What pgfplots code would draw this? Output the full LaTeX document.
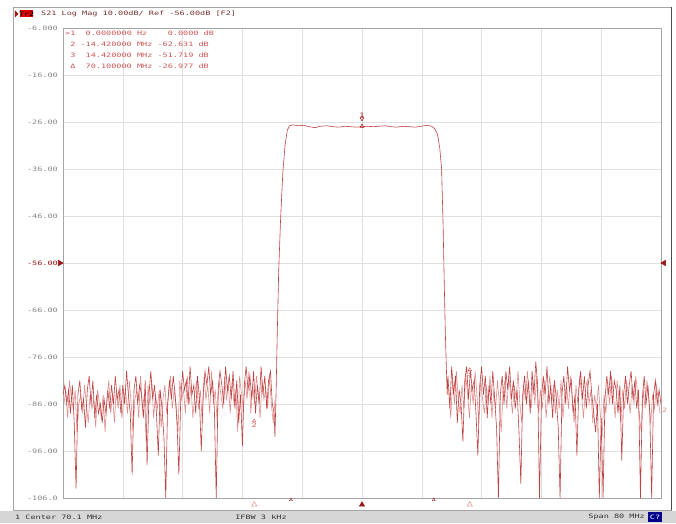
\documentclass[border=0pt]{standalone}
\usepackage{pgfplots}
\pgfplotsset{compat=1.18}
\usepackage{fontspec}
\usepackage{graphicx}
\setmonofont{DejaVu Sans Mono}
\definecolor{trace}{RGB}{190,66,66}
\definecolor{gridc}{RGB}{224,224,224}
\definecolor{framec}{RGB}{165,165,165}
\definecolor{tickc}{RGB}{135,135,135}
\definecolor{mkred}{RGB}{205,85,85}
\definecolor{darkred}{RGB}{160,20,20}
\definecolor{titlec}{RGB}{115,45,45}
\definecolor{barc}{RGB}{214,214,214}
\definecolor{pinkc}{RGB}{225,140,140}
\newcommand\scr[1]{\scalebox{1.42}[1]{\fontsize{6}{6}\selectfont\ttfamily #1}}
\begin{document}
\begin{tikzpicture}
\path[use as bounding box] (-63pt,-25pt) rectangle (613pt,498pt);
% window frame and status bar
\draw[framec, line width=0.8pt] (-50pt,-12pt) rectangle (608pt,491pt);
\draw[gray!60!black, line width=0.8pt] (608pt,-12pt) -- (608pt,491pt);
\fill[barc] (-63pt,-25pt) rectangle (613pt,-13pt);
\begin{axis}[
  at={(0pt,0pt)}, anchor=south west,
  scale only axis, width=598pt, height=470pt,
  xmin=30.1, xmax=110.1, ymin=-106, ymax=-6,
  xtick={30.1,38.1,46.1,54.1,62.1,70.1,78.1,86.1,94.1,102.1,110.1},
  xticklabels={},
  ytick={-106,-96,-86,-76,-66,-56,-46,-36,-26,-16,-6},
  yticklabels={\scr{-106.0},\scr{-96.00},\scr{-86.00},\scr{-76.00},\scr{-66.00},
    \textcolor{darkred}{\scr{-56.00}},\scr{-46.00},\scr{-36.00},\scr{-26.00},\scr{-16.00},\scr{-6.000}},
  yticklabel style={anchor=east, xshift=-5pt, text=tickc, inner sep=0pt},
  major tick length=0pt,
  grid=major, major grid style={draw=gridc, line width=0.5pt},
  axis line style={draw=framec, line width=0.7pt},
  clip=false,
]
% in-between samples of the noise floor (lighter)
\addplot[pinkc, line width=0.6pt, mark=none] coordinates {
(30.225,-86)(30.475,-83)(30.725,-89)(30.975,-81)(31.225,-85)(31.475,-87)(31.725,-83)(31.975,-92)(32.225,-86)(32.475,-84)
(32.725,-88)(32.975,-82)(33.225,-86)(33.475,-90)(33.725,-84)(33.975,-87)(34.225,-85)(34.475,-91)(34.725,-83)(34.975,-86)
(35.225,-89)(35.475,-84)(35.725,-92)(35.975,-85)(36.225,-81)(36.475,-88)(36.725,-84)(36.975,-90)(37.225,-83)(37.475,-87)
(37.725,-82)(37.975,-89)(38.225,-85)(38.475,-83)(38.725,-88)(38.975,-81)(39.225,-86)(39.475,-92)(39.725,-85)(39.975,-83)
(40.225,-89)(40.475,-80)(40.725,-87)(40.975,-84)(41.225,-94)(41.475,-82)(41.725,-86)(41.975,-81)(42.225,-89)(42.475,-84)
(42.725,-87)(42.975,-83)(43.225,-91)(43.475,-85)(43.725,-82)(43.975,-88)(44.225,-84)(44.475,-80)(44.725,-87)(44.975,-83)
(45.225,-86)(45.475,-92)(45.725,-81)(45.975,-85)(46.225,-83)(46.475,-88)(46.725,-80)(46.975,-86)(47.225,-82)(47.475,-89)
(47.725,-84)(47.975,-81)(48.225,-87)(48.475,-83)(48.725,-90)(48.975,-80)(49.225,-85)(49.475,-82)(49.725,-88)(49.975,-79)
(50.225,-86)(50.475,-83)(50.725,-90)(50.975,-81)(51.225,-84)(51.475,-87)(51.725,-80)(51.975,-85)(52.225,-82)(52.475,-88)
(52.725,-81)(52.975,-86)(53.225,-83)(53.475,-92)(53.725,-80)(53.975,-84)(54.225,-87)(54.475,-81)(54.725,-85)(54.975,-79)
(55.225,-88)(55.475,-82)(55.725,-86)(55.975,-80)(56.225,-84)(56.475,-89)(56.725,-81)(56.975,-85)(57.225,-83)(57.475,-87)
(57.725,-80)(57.975,-86)(58.225,-90)(58.475,-85)
};
\addplot[pinkc, line width=0.6pt, mark=none] coordinates {
(81.725,-83)(81.975,-89)(82.225,-81)(82.475,-86)(82.725,-79)(82.975,-85)(83.225,-88)(83.475,-82)(83.725,-87)(83.975,-80)
(84.225,-84)(84.475,-89)(84.725,-82)(84.975,-86)(85.225,-79)(85.475,-84)(85.725,-90)(85.975,-81)(86.225,-85)(86.475,-88)
(86.725,-82)(86.975,-86)(87.225,-80)(87.475,-89)(87.725,-83)(87.975,-87)(88.225,-81)(88.475,-86)(88.725,-92)(88.975,-83)
(89.225,-81)(89.475,-87)(89.725,-80)(89.975,-84)(90.225,-88)(90.475,-82)(90.725,-85)(90.975,-79)(91.225,-86)(91.475,-90)
(91.725,-82)(91.975,-85)(92.225,-79)(92.475,-84)(92.725,-87)(92.975,-81)(93.225,-86)(93.475,-80)(93.725,-88)(93.975,-83)
(94.225,-87)(94.475,-81)(94.725,-89)(94.975,-84)(95.225,-80)(95.475,-86)(95.725,-82)(95.975,-88)(96.225,-83)(96.475,-87)
(96.725,-81)(96.975,-89)(97.225,-84)(97.475,-82)(97.725,-87)(97.975,-80)(98.225,-85)(98.475,-90)(98.725,-82)(98.975,-86)
(99.225,-80)(99.475,-84)(99.725,-89)(99.975,-83)(100.225,-81)(100.475,-86)(100.725,-83)(100.975,-90)(101.225,-84)(101.475,-87)
(101.725,-82)(101.975,-88)(102.225,-93)(102.475,-84)(102.725,-88)(102.975,-82)(103.225,-86)(103.475,-80)(103.725,-84)(103.975,-89)
(104.225,-81)(104.475,-85)(104.725,-90)(104.975,-83)(105.225,-87)(105.475,-81)(105.725,-84)(105.975,-88)(106.225,-82)(106.475,-86)
(106.725,-80)(106.975,-84)(107.225,-89)(107.475,-92)(107.725,-83)(107.975,-87)(108.225,-81)(108.475,-85)(108.725,-90)(108.975,-84)
(109.225,-87)(109.475,-82)(109.725,-85)(109.975,-88)
};
% S21 trace
\addplot[trace, line width=0.6pt, mark=none] coordinates {
(30.10,-84)(30.35,-82)(30.60,-86)(30.85,-83)(31.10,-88)(31.35,-82)(31.60,-90)(31.85,-104)(32.10,-84)(32.35,-81)
(32.60,-87)(32.85,-85)(33.10,-91)(33.35,-83)(33.60,-80)(33.85,-86)(34.10,-81)(34.35,-89)(34.60,-84)(34.85,-88)
(35.10,-86)(35.35,-90)(35.60,-85)(35.85,-88)(36.10,-83)(36.35,-87)(36.60,-82)(36.85,-86)(37.10,-80)(37.35,-85)
(37.60,-83)(37.85,-88)(38.10,-82)(38.35,-86)(38.60,-79)(38.85,-84)(39.10,-88)(39.35,-101)(39.60,-83)(39.85,-80)
(40.10,-86)(40.35,-82)(40.60,-84)(40.85,-89)(41.10,-81)(41.35,-99)(41.60,-84)(41.85,-79)(42.10,-85)(42.35,-82)
(42.60,-88)(42.85,-97)(43.10,-83)(43.35,-87)(43.60,-93)(43.85,-106)(44.10,-86)(44.35,-81)(44.60,-85)(44.85,-80)
(45.10,-84)(45.35,-90)(45.60,-101)(45.85,-85)(46.10,-79)(46.35,-83)(46.60,-81)(46.85,-86)(47.10,-78)(47.35,-84)
(47.60,-82)(47.85,-88)(48.10,-80)(48.35,-85)(48.60,-96)(48.85,-84)(49.10,-79)(49.35,-82)(49.60,-78)(49.85,-84)
(50.10,-81)(50.35,-87)(50.60,-106)(50.85,-83)(51.10,-79)(51.35,-82)(51.60,-86)(51.85,-78)(52.10,-83)(52.35,-80)
(52.60,-85)(52.85,-79)(53.10,-87)(53.35,-81)(53.60,-90)(53.85,-84)(54.10,-95)(54.35,-82)(54.60,-78)(54.85,-83)
(55.10,-80)(55.35,-85)(55.60,-79)(55.85,-88)(56.10,-82)(56.35,-86)(56.60,-78)(56.85,-84)(57.10,-80)(57.35,-87)
(57.60,-81)(57.85,-79)(58.10,-86)(58.35,-88)(58.45,-93)(58.60,-84)
(58.75,-72)(58.95,-58)(59.20,-47)(59.50,-37)(59.80,-31)(60.10,-27.8)(60.40,-26.8)(60.80,-26.6)(61.50,-26.8)
(62.30,-26.7)(63.00,-27.0)(63.80,-27.2)(64.60,-26.9)(65.40,-26.8)(66.20,-27.0)(67.00,-27.1)(67.80,-26.9)
(68.60,-27.0)(69.40,-27.1)(70.10,-26.98)(70.80,-26.9)(71.60,-27.0)(72.40,-26.9)(73.20,-26.8)(74.00,-27.0)
(74.80,-27.1)(75.60,-26.9)(76.40,-27.0)(77.20,-27.1)(78.00,-26.9)(78.80,-26.7)(79.40,-26.9)(79.80,-27.4)
(80.20,-28.6)(80.50,-31.5)(80.75,-36)(80.95,-48)(81.10,-60)(81.25,-71)(81.40,-79)(81.50,-84)
(81.60,-80)(81.85,-87)(82.10,-78)(82.35,-84)(82.60,-80)(82.85,-90)(83.10,-83)(83.35,-86)(83.60,-94)(83.85,-81)
(84.10,-78)(84.35,-85)(84.60,-79)(84.85,-83)(85.10,-81)(85.35,-88)(85.60,-97)(85.85,-82)(86.10,-78)(86.35,-84)
(86.60,-80)(86.85,-89)(87.10,-82)(87.35,-86)(87.60,-79)(87.85,-85)(88.10,-91)(88.35,-106)(88.60,-84)(88.85,-80)
(89.10,-86)(89.35,-79)(89.60,-83)(89.85,-78)(90.10,-85)(90.35,-81)(90.60,-87)(90.85,-83)(91.10,-92)(91.35,-103)
(91.60,-84)(91.85,-80)(92.10,-86)(92.35,-81)(92.60,-88)(92.85,-79)(93.10,-84)(93.35,-77)(93.60,-82)(93.85,-106)
(94.10,-85)(94.35,-80)(94.60,-84)(94.85,-78)(95.10,-86)(95.35,-82)(95.60,-89)(95.85,-81)(96.10,-85)(96.35,-91)
(96.60,-106)(96.85,-84)(97.10,-80)(97.35,-86)(97.60,-78)(97.85,-83)(98.10,-81)(98.35,-88)(98.60,-84)(98.85,-97)
(99.10,-83)(99.35,-79)(99.60,-85)(99.85,-80)(100.10,-87)(100.35,-82)(100.60,-79)(100.85,-84)(101.10,-88)(101.35,-92)
(101.60,-86)(101.85,-106)(102.10,-89)(102.35,-106)(102.60,-85)(102.85,-80)(103.10,-84)(103.35,-79)(103.60,-86)(103.85,-81)
(104.10,-83)(104.35,-88)(104.60,-82)(104.85,-98)(105.10,-84)(105.35,-80)(105.60,-86)(105.85,-82)(106.10,-79)(106.35,-85)
(106.60,-81)(106.85,-87)(107.10,-83)(107.35,-106)(107.60,-85)(107.85,-80)(108.10,-86)(108.35,-82)(108.60,-88)(108.85,-106)
(109.10,-84)(109.35,-81)(109.60,-86)(109.85,-83)(110.10,-86)
};
% markers on trace
\addplot[only marks, mark=triangle, mark size=2.2pt, mark options={rotate=180, draw=darkred, line width=0.5pt}]
  coordinates {(70.1,-25.3)} node[above=1.5pt, text=darkred, inner sep=0pt] {\scr{1}};
\addplot[only marks, mark=triangle, mark size=2.2pt, mark options={draw=darkred, line width=0.5pt}]
  coordinates {(70.1,-26.9)};
\addplot[only marks, mark=triangle, mark size=2pt, mark options={draw=mkred, line width=0.4pt}]
  coordinates {(55.68,-89.6)} node[below=2pt, text=mkred, inner sep=0pt] {\scr{2}};
\addplot[only marks, mark=triangle, mark size=2pt, mark options={draw=mkred, line width=0.4pt}]
  coordinates {(84.52,-78.7)} node[below=2pt, text=mkred, inner sep=0pt] {\scr{3}};
% marker positions under the axis
\addplot[only marks, mark=triangle, mark size=3pt, mark options={draw=pinkc, line width=0.5pt}]
  coordinates {(55.68,-107.4)(84.52,-107.4)};
\addplot[only marks, mark=triangle, mark size=1.8pt, mark options={draw=darkred, line width=0.4pt}]
  coordinates {(60.6,-106.4)(79.7,-106.4)};
\addplot[only marks, mark=triangle*, mark size=3pt, mark options={draw=darkred, fill=darkred}]
  coordinates {(70.1,-107.4)};
% reference level indicators
\addplot[only marks, mark=triangle*, mark size=3.2pt, mark options={xshift=-3pt, rotate=-90, draw=darkred, fill=darkred}]
  coordinates {(30.1,-56)};
\addplot[only marks, mark=triangle*, mark size=3.2pt, mark options={xshift=3pt, rotate=90, draw=darkred, fill=darkred}]
  coordinates {(110.1,-56)};
\end{axis}
% title line
\fill[darkred] (-48pt,487.5pt) -- (-44.5pt,484pt) -- (-48pt,480.5pt) -- cycle;
\fill[red!85!black] (-43pt,480.5pt) rectangle (-30pt,487.5pt);
\node[inner sep=0pt, text=black] at (-36.5pt,484pt) {\scr{Tr2}};
\node[anchor=west, inner sep=0pt, text=titlec] at (-22pt,484pt) {\scr{S21 Log Mag 10.00dB/ Ref -56.00dB [F2]}};
% marker table
\node[anchor=north west, inner sep=0pt, text=mkred, align=left] at (2pt,467pt) {%
\scr{>1~~0.0000000~Hz~~~~0.0000~dB}\\[-1.2pt]
\scr{~2~-14.420000~MHz~-62.631~dB}\\[-1.2pt]
\scr{~3~~14.420000~MHz~-51.719~dB}\\[-1.2pt]
\scr{~Δ~~70.100000~MHz~-26.977~dB}};
% trace tag at the right end
\node[anchor=west, inner sep=0pt, text=pinkc] at (599pt,88pt) {\scr{2}};
% status bar
\node[anchor=west, inner sep=0pt, text=black!80] at (-48pt,-19pt) {\scr{1 Center 70.1 MHz}};
\node[inner sep=0pt, text=black!80] at (198pt,-19pt) {\scr{IFBW 3 kHz}};
\node[anchor=east, inner sep=0pt, text=black!80] at (582pt,-19pt) {\scr{Span 80 MHz}};
\fill[blue!55!black] (585pt,-24pt) rectangle (599pt,-14pt);
\node[inner sep=0pt, text=white] at (592pt,-19pt) {\scr{C?}};
\end{tikzpicture}
\end{document}
